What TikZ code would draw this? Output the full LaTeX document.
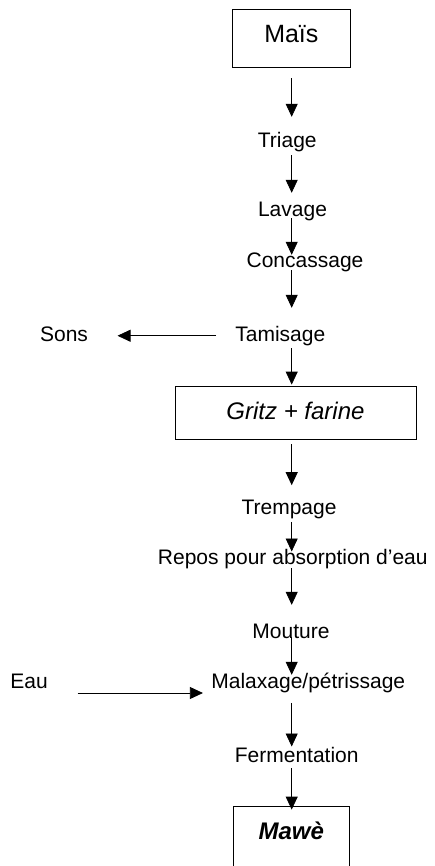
\documentclass[tikz,border=0pt]{standalone}
\usepackage{fontspec}
\setmainfont{Liberation Sans}
\usetikzlibrary{arrows.meta,positioning,calc}
\tikzset{
  stage/.style={
    inner sep=0pt,
    anchor=base,
    text height=15pt,
    text depth=4.5pt,
    font=\fontsize{21}{25}\selectfont
  },
  product/.style={
    rectangle,
    draw=black,
    line width=0.8pt,
    inner sep=0pt,
    align=center,
    text height=18pt,
    font=\fontsize{25}{30}\selectfont
  },
  arrow/.style={
    -{Triangle[length=13pt,width=12pt]},
    line width=0.8pt,
    draw=black
  }
}

\begin{document}
\begin{tikzpicture}[x=1pt,y=-1pt]
  \useasboundingbox (0,0) rectangle (434,866);
  \coordinate (col) at (291.7,0);
  % boxes
  \node[product,minimum width=117.3pt,minimum height=58.7pt,text depth=10.1pt] (mais) at (291.35,38.35) {Maïs};
  \node[product,minimum width=241pt,minimum height=53pt,text depth=4.4pt,font=\fontsize{24}{29}\selectfont\itshape] (gritz) at (295.5,412.5) {Gritz + farine};
  \node[product,minimum width=116pt,minimum height=70pt,text height=17pt,text depth=20.4pt,font=\fontsize{24}{29}\selectfont\bfseries\itshape] (mawe) at (291.3,841) {Mawè};
  % stages
  \node[stage] (triage) at (287.3,147.7) {Triage};
  \node[stage] (lavage) at (292.5,216.7) {Lavage};
  \node[stage] (concassage) at (305,267.3) {Concassage};
  \node[stage] (tamisage) at (280.3,341) {Tamisage};
  \node[stage] (sons) at (64,341.7) {Sons};
  \node[stage] (trempage) at (289,514) {Trempage};
  \node[stage] (repos) at (292.8,564.3) {Repos pour absorption d’eau};
  \node[stage] (mouture) at (291,638.3) {Mouture};
  \node[stage] (malaxage) at (308.3,688.3) {Malaxage/pétrissage};
  \node[stage] (eau) at (29,688.3) {Eau};
  \node[stage] (fermentation) at (296.7,762.7) {Fermentation};
  % flow
  \draw[arrow,shorten <=10.3pt,shorten >=15.7pt] (mais.south -| col) -- (triage.north -| col);
  \draw[arrow,shorten <=2.8pt,shorten >=8.7pt] (triage.south -| col) -- (lavage.north -| col);
  \draw[arrow,shorten <=-3.2pt,shorten >=-2.7pt] (lavage.south -| col) -- (concassage.north -| col);
  \draw[arrow,shorten <=-1.8pt,shorten >=18pt] (concassage.south -| col) -- (tamisage.north -| col);
  \draw[arrow,shorten <=19pt,shorten >=29.4pt] (tamisage.west) -- (sons.east |- tamisage.west);
  \draw[arrow,shorten <=2.5pt,shorten >=1pt] (tamisage.south -| col) -- (gritz.north -| col);
  \draw[arrow,shorten <=5pt,shorten >=13.6pt] (gritz.south -| col) -- (trempage.north -| col);
  \draw[arrow,shorten <=3.2pt,shorten >=-2.4pt] (trempage.south -| col) -- (repos.north -| col);
  \draw[arrow,shorten <=-0.8pt,shorten >=18.3pt] (repos.south -| col) -- (mouture.north -| col);
  \draw[arrow,shorten <=-6.1pt,shorten >=-1.7pt] (mouture.south -| col) -- (malaxage.north -| col);
  \draw[arrow,shorten <=29.7pt,shorten >=8.3pt] (eau.south east) -- (malaxage.south west);
  \draw[arrow,shorten <=9.9pt,shorten >=1pt] (malaxage.south -| col) -- (fermentation.north -| col);
  \draw[arrow,shorten <=0.8pt,shorten >=-4pt] (fermentation.south -| col) -- (mawe.north -| col);
\end{tikzpicture}
\end{document}
